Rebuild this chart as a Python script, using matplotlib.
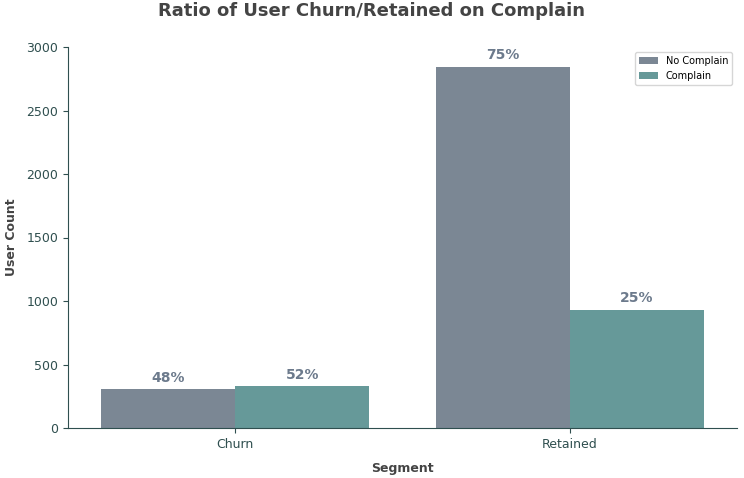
import matplotlib
matplotlib.use("Agg")
import matplotlib.pyplot as plt
import numpy as np

segments = ["Churn", "Retained"]
no_complain = [305, 2845]
complain = [330, 930]
pct_no = ["48%", "75%"]
pct_c = ["52%", "25%"]

fig = plt.figure(figsize=(7.44, 4.78), dpi=100)
ax = fig.add_axes([68/744, 1-428/478, (737-68)/744, (428-47)/478])
x = np.arange(len(segments))
w = 0.4
c1, c2 = "#7b8794", "#669999"
b1 = ax.bar(x - w/2, no_complain, w, color=c1, label="No Complain")
b2 = ax.bar(x + w/2, complain, w, color=c2, label="Complain")
for bars, labs in ((b1, pct_no), (b2, pct_c)):
    for b, l in zip(bars, labs):
        ax.text(b.get_x()+b.get_width()/2, b.get_height()+35, l, ha="center", va="bottom",
                fontsize=10, fontweight="bold", color="#6c7a8c")
ax.set_xlim(-0.5, 1.5)
ax.set_ylim(0, 3000)
ax.set_xticks(x)
ax.set_xticklabels(segments)
ax.tick_params(colors="#2f4f4f", labelsize=9)
for s in ["top", "right"]:
    ax.spines[s].set_visible(False)
for s in ["left", "bottom"]:
    ax.spines[s].set_color("#2f4f4f")
ax.set_xlabel("Segment", fontsize=9, fontweight="bold", color="#444444", labelpad=8)
ax.set_ylabel("User Count", fontsize=9, fontweight="bold", color="#444444", labelpad=6)
fig.suptitle("Ratio of User Churn/Retained on Complain", fontsize=13, fontweight="bold",
             color="#444444", y=0.995)
ax.legend(fontsize=7, loc="upper right")
fig.savefig("out.png", dpi=100)
